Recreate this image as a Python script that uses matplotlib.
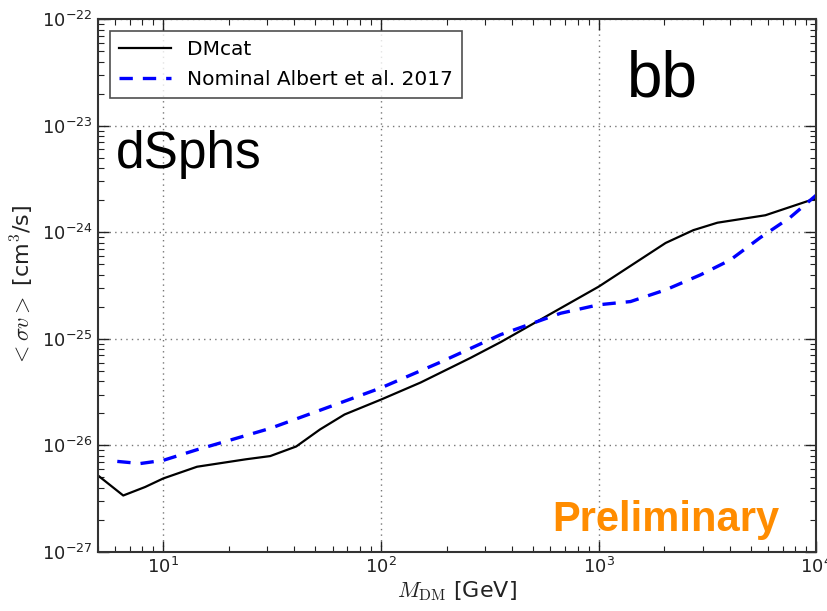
import numpy as np
import matplotlib.pyplot as plt

# DMcat limit (bb channel, dSphs)
mass_dmcat = [5.0, 6.55, 8.26, 10, 14.3, 24, 31, 40.8, 52.5, 68, 100, 152, 257, 355,
              1000, 2030, 2720, 3510, 5830, 10000]
sigv_dmcat = [10**-26.28, 10**-26.47, 10**-26.39, 10**-26.31, 10**-26.20, 10**-26.13,
              10**-26.10, 10**-26.01, 10**-25.85, 10**-25.71, 10**-25.57, 10**-25.41,
              10**-25.18, 10**-25.03, 10**-24.51, 10**-24.10, 10**-23.98, 10**-23.91,
              10**-23.84, 10**-23.68]

# Nominal Albert et al. 2017
mass_albert = [6.15, 7.84, 10, 14.3, 20.3, 31, 52.5, 100, 187, 355, 668, 1000, 1400,
               2030, 2930, 4020, 5520, 7580, 10000]
sigv_albert = [10**-26.15, 10**-26.17, 10**-26.14, 10**-26.04, 10**-25.95, 10**-25.84,
               10**-25.67, 10**-25.46, 10**-25.22, 10**-24.96, 10**-24.76, 10**-24.68,
               10**-24.65, 10**-24.54, 10**-24.40, 10**-24.26, 10**-24.05, 10**-23.86,
               10**-23.65]

plt.rcParams['font.family'] = ['DejaVu Sans']
plt.rcParams['mathtext.fontset'] = 'cm'

fig = plt.figure(figsize=(8.28, 6.11), dpi=100)
ax = fig.add_axes([0.118, 0.0966, 0.868, 0.872])

ax.plot(mass_dmcat, sigv_dmcat, color='black', lw=1.6, label='DMcat')
ax.plot(mass_albert, sigv_albert, color='blue', lw=2.4, ls='--', dashes=(4, 3),
        label='Nominal Albert et al. 2017')

ax.set_xscale('log')
ax.set_yscale('log')
ax.set_xlim(5, 1e4)
ax.set_ylim(1e-27, 1e-22)

ax.grid(True, which='major', ls=(0, (1, 3)), color='#777777', lw=1)
ax.tick_params(which='both', direction='in', top=True, right=True, labelsize=13,
               colors='#222222')
ax.tick_params(which='major', length=8, width=1)
ax.tick_params(which='minor', length=4, width=0.8)
for s in ax.spines.values():
    s.set_linewidth(1.5)
    s.set_color('#333333')

ax.set_xlabel(r'$M_{\rm DM}$ [GeV]', fontsize=16, color='#222222', labelpad=2)
ax.set_ylabel(r'$<\sigma v>$ [cm$^3$/s]', fontsize=16, color='#222222', labelpad=4)

leg = ax.legend(loc='upper left', fontsize=14.5, frameon=True, fancybox=False,
                borderaxespad=0.6, handlelength=2.6, borderpad=0.45, labelspacing=0.55)
leg.get_frame().set_edgecolor('#222222')
leg.get_frame().set_linewidth(1.2)

ax.text(0.737, 0.855, 'bb', transform=ax.transAxes, fontsize=46, family='Liberation Sans')
ax.text(0.025, 0.72, 'dSphs', transform=ax.transAxes, fontsize=37, family='Liberation Sans')
ax.text(0.633, 0.04, 'Preliminary', transform=ax.transAxes, fontsize=30, weight='bold',
        color='#FF8C00', family='Liberation Sans')

fig.savefig('out.png', dpi=100)
